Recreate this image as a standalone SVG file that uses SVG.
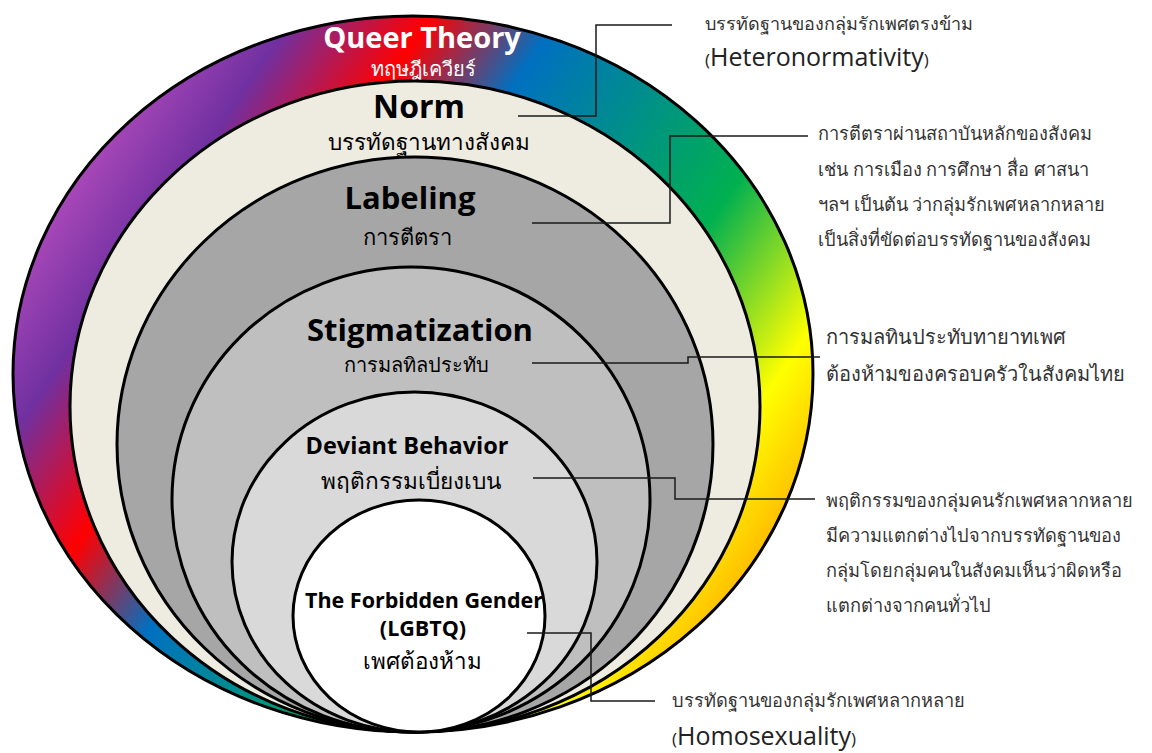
<svg xmlns="http://www.w3.org/2000/svg" width="1152" height="753" viewBox="0 0 1152 753">
<defs>
<linearGradient id="rainbow" gradientUnits="userSpaceOnUse" x1="92" y1="159" x2="734" y2="589">
<stop offset="0" stop-color="#a747b8"/>
<stop offset="0.114" stop-color="#7030a0"/>
<stop offset="0.262" stop-color="#ff0000"/>
<stop offset="0.40" stop-color="#0070c0"/>
<stop offset="0.71" stop-color="#00b050"/>
<stop offset="0.895" stop-color="#ffff00"/>
<stop offset="1" stop-color="#ffc000"/>
</linearGradient>
</defs>
<style>
.ring{stroke:#000;stroke-width:3}
.en{font-family:"Open Sans","Noto Sans","DejaVu Sans",sans-serif;font-weight:bold;text-anchor:middle;fill:#000}
.th{font-family:"Noto Sans","DejaVu Sans",sans-serif;text-anchor:middle;fill:#000}
.note{font-family:"Noto Sans","DejaVu Sans",sans-serif;fill:#333;font-size:18.2px}
.noteen{font-family:"Open Sans","Noto Sans",sans-serif;fill:#222}
.conn{fill:none;stroke:#1a1a1a;stroke-width:1.5}
</style>
<rect width="1152" height="753" fill="#fff"/>
<g id="queer-theory">
<ellipse class="ring" cx="413" cy="374" rx="400" ry="358" fill="url(#rainbow)"/>
<text class="en" x="422" y="48" font-size="29" style="fill:#fff">Queer Theory</text>
<text class="th" x="423" y="76" font-size="20" style="fill:#fff">ทฤษฎีเควียร์</text>
</g>
<g id="norm">
<ellipse class="ring" cx="415" cy="406.5" rx="345" ry="325.5" fill="#eeece1"/>
<text class="en" x="419" y="118" font-size="32">Norm</text>
<text class="th" x="429" y="150" font-size="22.5">บรรทัดฐานทางสังคม</text>
</g>
<g id="labeling">
<ellipse class="ring" cx="415" cy="444.5" rx="298" ry="287.5" fill="#a6a6a6"/>
<text class="en" x="410" y="209" font-size="31">Labeling</text>
<text class="th" x="407" y="245" font-size="22">การตีตรา</text>
</g>
<g id="stigmatization">
<ellipse class="ring" cx="411" cy="499.5" rx="239" ry="232.5" fill="#bfbfbf"/>
<text class="en" x="420" y="341" font-size="31">Stigmatization</text>
<text class="th" x="416" y="372" font-size="20">การมลทิลประทับ</text>
</g>
<g id="deviant-behavior">
<ellipse class="ring" cx="414.5" cy="562" rx="182.5" ry="170" fill="#d9d9d9"/>
<text class="en" x="407" y="454" font-size="23.5">Deviant Behavior</text>
<text class="th" x="411" y="489" font-size="22.6">พฤติกรรมเบี่ยงเบน</text>
</g>
<g id="forbidden-gender">
<ellipse class="ring" cx="419" cy="616" rx="126" ry="116" fill="#ffffff"/>
<text class="en" x="424" y="608" font-size="21.5">The Forbidden Gender</text>
<text class="en" x="423" y="636" font-size="21.5">(LGBTQ)</text>
<text class="th" x="422" y="669" font-size="22.4">เพศต้องห้าม</text>
</g>
<g id="connectors">
<polyline class="conn" points="518,116 596,116 596,25 672,25"/>
<polyline class="conn" points="532,223 670,223 670,136 808,136"/>
<polyline class="conn" points="532,363 688,363 688,357 820,357"/>
<polyline class="conn" points="533,478 675,478 675,499 815,499"/>
<polyline class="conn" points="527,633 591,633 591,701 655,701"/>
</g>
<g id="note-heteronormativity">
<text class="note" x="705" y="30" style="font-size:18px">บรรทัดฐานของกลุ่มรักเพศตรงข้าม</text>
<text class="noteen" x="705" y="66"><tspan font-size="17">(</tspan><tspan font-size="25">Heteronormativity</tspan><tspan font-size="17">)</tspan></text>
</g>
<g id="note-labeling">
<text class="note" x="818" y="140">การตีตราผ่านสถาบันหลักของสังคม</text>
<text class="note" x="818" y="176">เช่น การเมือง การศึกษา สื่อ ศาสนา</text>
<text class="note" x="818" y="211">ฯลฯ เป็นต้น ว่ากลุ่มรักเพศหลากหลาย</text>
<text class="note" x="818" y="246">เป็นสิ่งที่ขัดต่อบรรทัดฐานของสังคม</text>
</g>
<g id="note-stigmatization">
<text class="note" x="826" y="344" style="font-size:20px">การมลทินประทับทายาทเพศ</text>
<text class="note" x="826" y="381" style="font-size:20px">ต้องห้ามของครอบครัวในสังคมไทย</text>
</g>
<g id="note-deviant">
<text class="note" x="826" y="507">พฤติกรรมของกลุ่มคนรักเพศหลากหลาย</text>
<text class="note" x="826" y="542">มีความแตกต่างไปจากบรรทัดฐานของ</text>
<text class="note" x="826" y="577">กลุ่มโดยกลุ่มคนในสังคมเห็นว่าผิดหรือ</text>
<text class="note" x="826" y="612">แตกต่างจากคนทั่วไป</text>
</g>
<g id="note-homosexuality">
<text class="note" x="672" y="707">บรรทัดฐานของกลุ่มรักเพศหลากหลาย</text>
<text class="noteen" x="672" y="745"><tspan font-size="17">(</tspan><tspan font-size="25">Homosexuality</tspan><tspan font-size="17">)</tspan></text>
</g>
</svg>
